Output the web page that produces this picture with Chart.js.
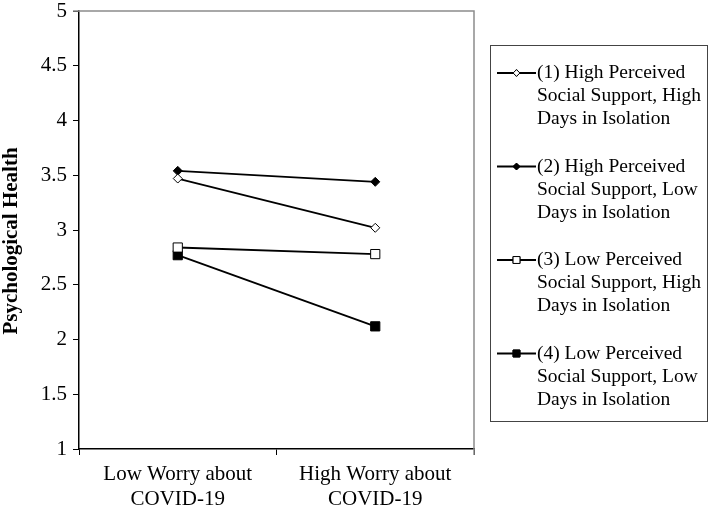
<!DOCTYPE html>
<html>
<head>
<meta charset="utf-8">
<script src="https://cdn.jsdelivr.net/npm/chart.js@4/dist/chart.umd.min.js"></script>
<style>
  html, body { margin: 0; padding: 0; background: #fff; }
  #wrap { width: 709px; height: 512px; }
</style>
</head>
<body>
<div id="wrap"><canvas id="interactionChart" width="709" height="512"></canvas></div>
<script>
// categories and series values
const categories = [['Low Worry about', 'COVID-19'], ['High Worry about', 'COVID-19']];
const seriesLabels = [
    ['(1) High Perceived', 'Social Support, High', 'Days in Isolation'],
    ['(2) High Perceived', 'Social Support, Low', 'Days in Isolation'],
    ['(3) Low Perceived', 'Social Support, High', 'Days in Isolation'],
    ['(4) Low Perceived', 'Social Support, Low', 'Days in Isolation']
];
const highSupportHighDays = [3.47, 3.02];
const highSupportLowDays = [3.54, 3.44];
const lowSupportHighDays = [2.84, 2.78];
const lowSupportLowDays = [2.77, 2.12];
const yMin = 1, yMax = 5, yStep = 0.5;
const yTitle = 'Psychological Health';

const serif = "'Liberation Serif', 'Times New Roman', serif";

const markerStyles = [
    { pointStyle: 'rectRot', radius: 4.5, fill: '#fff' },
    { pointStyle: 'rectRot', radius: 4.5, fill: '#000' },
    { pointStyle: 'rect', radius: 6.5, fill: '#fff' },
    { pointStyle: 'rect', radius: 6.5, fill: '#000' }
];
const seriesData = [highSupportHighDays, highSupportLowDays, lowSupportHighDays, lowSupportLowDays];

// gray frame (top/right), the rotated axis title and the boxed legend
const frameAndLegend = {
    id: 'frameAndLegend',
    afterDraw(chart) {
        const ctx = chart.ctx;
        const a = chart.chartArea;
        ctx.save();
        ctx.strokeStyle = '#8c8c8c';
        ctx.lineWidth = 1.5;
        ctx.beginPath();
        ctx.moveTo(a.left - 6, a.top);
        ctx.lineTo(a.right, a.top);
        ctx.lineTo(a.right, a.bottom + 6);
        ctx.stroke();

        // y title, sits a bit below the plot centre in the original
        ctx.save();
        ctx.translate(12, 241);
        ctx.rotate(-Math.PI / 2);
        ctx.font = 'bold 21px ' + serif;
        ctx.fillStyle = '#000';
        ctx.textAlign = 'center';
        ctx.textBaseline = 'middle';
        ctx.fillText(yTitle, 0, 0);
        ctx.restore();

        // legend box
        ctx.strokeStyle = '#444';
        ctx.lineWidth = 1;
        ctx.strokeRect(490.5, 45.5, 217, 376);

        ctx.font = '19.5px ' + serif;
        ctx.textBaseline = 'middle';
        chart.data.datasets.forEach((ds, i) => {
            const y0 = 73 + i * 93.5;
            ctx.strokeStyle = '#000';
            ctx.lineWidth = 1.8;
            ctx.beginPath();
            ctx.moveTo(497, y0);
            ctx.lineTo(536, y0);
            ctx.stroke();
            const m = markerStyles[i];
            ctx.lineWidth = 1;
            ctx.fillStyle = m.fill;
            Chart.helpers.drawPoint(ctx, { pointStyle: m.pointStyle, radius: m.radius * 0.75, rotation: 0, borderWidth: 1 }, 516.5, y0);
            ctx.fill();
            ctx.stroke();
            ctx.fillStyle = '#000';
            seriesLabels[i].forEach((line, j) => {
                ctx.fillText(line, 537, y0 + j * 23);
            });
        });
        ctx.restore();
    }
};

const ctx = document.getElementById('interactionChart').getContext('2d');
new Chart(ctx, {
    type: 'line',
    data: {
        labels: categories,
        datasets: seriesData.map((d, i) => ({
            label: seriesLabels[i].join(' '),
            data: d,
            borderColor: '#000',
            borderWidth: 1.8,
            pointStyle: markerStyles[i].pointStyle,
            pointRadius: markerStyles[i].radius,
            pointBackgroundColor: markerStyles[i].fill,
            pointBorderColor: '#000',
            pointBorderWidth: 1,
            fill: false,
            tension: 0
        }))
    },
    options: {
        responsive: false,
        animation: false,
        events: [],
        layout: { padding: { top: 0, right: 235, left: 0, bottom: 0 } },
        plugins: {
            legend: { display: false },
            tooltip: { enabled: false }
        },
        scales: {
            x: {
                offset: true,
                grid: { offset: true, drawOnChartArea: false, tickLength: 6, color: '#000', tickWidth: 1 },
                border: { color: '#000', width: 1.5 },
                ticks: { color: '#000', font: { family: serif, size: 21, lineHeight: 1.2 }, padding: 7, maxRotation: 0 },
                afterFit(scale) { scale.height = 63; }
            },
            y: {
                min: yMin,
                max: yMax,
                grid: { drawOnChartArea: false, tickLength: 6, color: '#000' },
                border: { color: '#000', width: 1.5 },
                ticks: {
                    stepSize: yStep,
                    color: '#000',
                    font: { family: serif, size: 21 },
                    padding: 6,
                    callback: v => String(v)
                },
                afterFit(scale) {
                    scale.width = 79;
                    scale.paddingTop = 11;
                    scale.paddingBottom = 0;
                }
            }
        }
    },
    plugins: [frameAndLegend]
});
</script>
</body>
</html>
